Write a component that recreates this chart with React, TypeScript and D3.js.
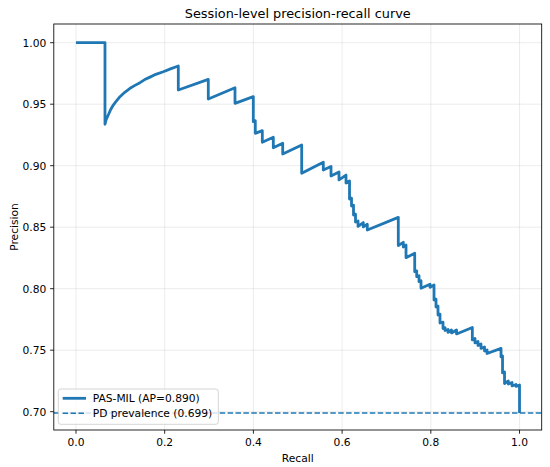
import { scaleLinear, line as d3_line } from "d3";

// precision-recall points
const recall = [
  0, 0.0654, 0.0654, 0.068, 0.0728, 0.078, 0.0841, 0.09, 0.0992, 0.11, 0.1218, 0.133,
  0.1443, 0.155, 0.1669, 0.18, 0.1968, 0.213, 0.2307,
  0.2307, 0.2983, 0.2983, 0.3585, 0.3585, 0.3998, 0.3998, 0.4043, 0.4043, 0.4201,
  0.4201, 0.4449, 0.4449, 0.4661, 0.4661, 0.5089, 0.5089, 0.5576, 0.5576, 0.575,
  0.575, 0.593, 0.593, 0.6088, 0.6088, 0.6167, 0.6167, 0.6212, 0.6212, 0.6257,
  0.6257, 0.6302, 0.6302, 0.6359, 0.6359, 0.6478, 0.6478, 0.6568, 0.6568, 0.7267,
  0.7267, 0.738, 0.738, 0.7441, 0.7441, 0.7637, 0.7637, 0.7682, 0.7682, 0.7734,
  0.7734, 0.7779, 0.7779, 0.7982, 0.7982, 0.8072, 0.8072, 0.8117, 0.8117, 0.8162,
  0.8162, 0.8207, 0.8207, 0.8275, 0.8275, 0.832, 0.832, 0.8388, 0.8388, 0.8467,
  0.8467, 0.858, 0.858, 0.8936, 0.8936, 0.8996, 0.8996, 0.9064, 0.9064, 0.9132,
  0.9132, 0.9211, 0.9211, 0.9267, 0.9267, 0.9583, 0.9583, 0.9617, 0.9617, 0.9662,
  0.9662, 0.9748, 0.9748, 0.9831, 0.9831, 0.9921, 0.9921, 1.0, 1.0,
];
const precision = [
  1.0, 1.0, 0.9337, 0.9375, 0.9412, 0.9455, 0.9493, 0.952, 0.9561, 0.9597, 0.9629, 0.9653,
  0.9675, 0.97, 0.972, 0.9743, 0.9764, 0.9787, 0.9811,
  0.9615, 0.9702, 0.9542, 0.9634, 0.9507, 0.9561, 0.9358, 0.9365, 0.9263, 0.9285,
  0.919, 0.9231, 0.9146, 0.9182, 0.9095, 0.9168, 0.8938, 0.9028, 0.8965, 0.8993,
  0.8916, 0.8949, 0.8884, 0.8924, 0.8859, 0.8876, 0.8729, 0.8736, 0.8672, 0.8679,
  0.8599, 0.8606, 0.8542, 0.855, 0.8506, 0.8538, 0.8502, 0.8524, 0.8477, 0.858,
  0.8351, 0.8377, 0.8339, 0.8355, 0.8252, 0.8288, 0.8138, 0.8145, 0.8098, 0.8105,
  0.8057, 0.8064, 0.8003, 0.8036, 0.8011, 0.803, 0.7908, 0.7915, 0.7851, 0.7858,
  0.7786, 0.7793, 0.7721, 0.7728, 0.7676, 0.7683, 0.766, 0.7668, 0.7644, 0.7664,
  0.764, 0.7664, 0.7632, 0.7685, 0.7583, 0.7595, 0.7559, 0.7571, 0.7538, 0.755,
  0.7514, 0.7526, 0.7493, 0.7502, 0.7473, 0.7515, 0.7445, 0.7453, 0.7315, 0.7323,
  0.7229, 0.725, 0.7225, 0.7237, 0.7209, 0.7221, 0.7205, 0.7217, 0.699,
];
const prevalence = 0.699;

const xTicks = [0, 0.2, 0.4, 0.6, 0.8, 1.0];
const yTicks = [0.7, 0.75, 0.8, 0.85, 0.9, 0.95, 1.0];
const legendLabels = ["PAS-MIL (AP=0.890)", "PD prevalence (0.699)"];

const W = 550;
const H = 467;
const margin = { left: 53.8, right: 8.3, top: 24, bottom: 37 };
const font = "DejaVu Sans, sans-serif";
const blue = "#1f77b4";

export default function App() {
  const x = scaleLinear().domain([-0.05, 1.05]).range([margin.left, W - margin.right]);
  const y = scaleLinear().domain([0.6851, 1.0152]).range([H - margin.bottom, margin.top]);

  const pts = recall.map((r, i) => [r, precision[i]] as [number, number]);
  const path = d3_line<[number, number]>()
    .x((d) => x(d[0]))
    .y((d) => y(d[1]))(pts) ?? "";

  const x0 = margin.left;
  const x1 = W - margin.right;
  const y0 = margin.top;
  const y1 = H - margin.bottom;

  return (
    <div style={{ position: "absolute", left: 0, top: 0 }}>
      <svg width={W} height={H} style={{ display: "block", background: "#fff" }} fontFamily={font}>
        {/* grid */}
        {xTicks.map((t) => (
          <line key={"gx" + t} x1={x(t)} x2={x(t)} y1={y0} y2={y1} stroke="#b0b0b0" strokeOpacity={0.3} strokeWidth={0.8} />
        ))}
        {yTicks.map((t) => (
          <line key={"gy" + t} x1={x0} x2={x1} y1={y(t)} y2={y(t)} stroke="#b0b0b0" strokeOpacity={0.3} strokeWidth={0.8} />
        ))}

        {/* curve */}
        <path d={path} fill="none" stroke={blue} strokeWidth={2.8} strokeLinejoin="round" />
        <line x1={x0} x2={x1} y1={y(prevalence)} y2={y(prevalence)} stroke={blue} strokeWidth={1.5} strokeDasharray="5.5,2.4" />

        {/* spines */}
        <rect x={x0} y={y0} width={x1 - x0} height={y1 - y0} fill="none" stroke="#000" strokeWidth={0.85} />

        {/* x axis */}
        {xTicks.map((t) => (
          <g key={"tx" + t}>
            <line x1={x(t)} x2={x(t)} y1={y1} y2={y1 + 3.7} stroke="#000" strokeWidth={0.85} />
            <text x={x(t)} y={y1 + 15.6} textAnchor="middle" fontSize={10.7} fill="#000">
              {t.toFixed(1)}
            </text>
          </g>
        ))}
        <text x={(x0 + x1) / 2} y={462} textAnchor="middle" fontSize={10.7} fill="#000">
          Recall
        </text>

        {/* y axis */}
        {yTicks.map((t) => (
          <g key={"ty" + t}>
            <line x1={x0 - 3.7} x2={x0} y1={y(t)} y2={y(t)} stroke="#000" strokeWidth={0.85} />
            <text x={x0 - 7.5} y={y(t) + 3.9} textAnchor="end" fontSize={10.7} fill="#000">
              {t.toFixed(2)}
            </text>
          </g>
        ))}
        <text transform={`translate(18,${(y0 + y1) / 2}) rotate(-90)`} textAnchor="middle" fontSize={10.7} fill="#000">
          Precision
        </text>

        {/* title */}
        <text x={(x0 + x1) / 2} y={18.3} textAnchor="middle" fontSize={12.85} fill="#000">
          Session-level precision-recall curve
        </text>

        {/* legend */}
        <g>
          <rect x={58.3} y={389} width={160} height={35.3} rx={2.5} fill="#fff" fillOpacity={0.8} stroke="#cccccc" strokeWidth={0.85} />
          <line x1={62.7} x2={86} y1={398.3} y2={398.3} stroke={blue} strokeWidth={2.8} />
          <text x={92.7} y={402.2} fontSize={10.7} fill="#000">{legendLabels[0]}</text>
          <line x1={62.7} x2={86} y1={413.3} y2={413.3} stroke={blue} strokeWidth={1.5} strokeDasharray="5.5,2.4" />
          <text x={92.7} y={417.2} fontSize={10.7} fill="#000">{legendLabels[1]}</text>
        </g>
      </svg>
    </div>
  );
}
